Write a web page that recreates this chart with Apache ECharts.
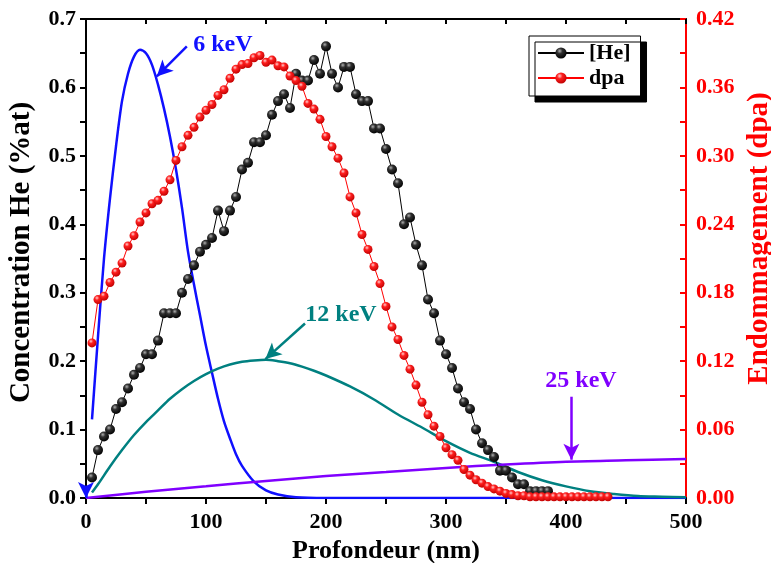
<!DOCTYPE html>
<html><head><meta charset="utf-8">
<script src="https://cdn.jsdelivr.net/npm/echarts@6/dist/echarts.min.js"></script>
<style>html,body{margin:0;padding:0;background:#fff}#c{width:771px;height:563px}</style>
</head><body><div id="c"></div>
<script>
// ---- Data ----
const heX = [5,10,15,20,25,30,35,40,45,50,55,60,65,70,75,80,85,90,95,100,105,110,115,120,125,130,135,140,145,150,155,160,165,170,175,180,185,190,195,200,205,210,215,220,225,230,235,240,245,250,255,260,265,270,275,280,285,290,295,300,305,310,315,320,325,330,335,340,345,350,355,360,365,370,375,380,385];
const heY = [0.03,0.07,0.09,0.10,0.13,0.14,0.16,0.18,0.19,0.21,0.21,0.23,0.27,0.27,0.27,0.30,0.32,0.34,0.36,0.37,0.38,0.42,0.39,0.42,0.44,0.48,0.49,0.52,0.52,0.53,0.56,0.58,0.59,0.57,0.62,0.61,0.61,0.64,0.62,0.66,0.62,0.60,0.63,0.63,0.59,0.58,0.58,0.54,0.54,0.51,0.48,0.46,0.40,0.41,0.37,0.34,0.29,0.27,0.23,0.21,0.19,0.16,0.14,0.13,0.10,0.08,0.07,0.06,0.04,0.04,0.03,0.02,0.02,0.01,0.01,0.01,0.01];
const dpaX = [5,10,15,20,25,30,35,40,45,50,55,60,65,70,75,80,85,90,95,100,105,110,115,120,125,130,135,140,145,150,155,160,165,170,175,180,185,190,195,200,205,210,215,220,225,230,235,240,245,250,255,260,265,270,275,280,285,290,295,300,305,310,315,320,325,330,335,340,345,350,355,360,365,370,375,380,385,390,395,400,405,410,415,420,425,430,435];
const dpaY = [0.136,0.174,0.177,0.189,0.198,0.206,0.221,0.230,0.242,0.250,0.258,0.261,0.269,0.279,0.296,0.308,0.318,0.325,0.334,0.340,0.345,0.353,0.358,0.368,0.376,0.380,0.381,0.386,0.388,0.382,0.384,0.379,0.378,0.370,0.366,0.361,0.346,0.341,0.332,0.317,0.308,0.298,0.285,0.264,0.250,0.231,0.218,0.203,0.188,0.168,0.150,0.139,0.125,0.113,0.099,0.084,0.073,0.063,0.054,0.044,0.038,0.033,0.025,0.020,0.016,0.013,0.010,0.008,0.006,0.004,0.003,0.002,0.002,0.001,0.001,0.001,0.001,0.001,0.001,0.001,0.001,0.001,0.001,0.001,0.001,0.001,0.001];
const kev6X = [5,10,15,20,25,30,35,40,45,50,55,60,65,70,75,80,85,90,95,100,105,110,115,120,125,130,140,150,160,175,200,250,300,400,500];
const kev6Y = [0.115,0.236,0.35,0.438,0.514,0.58,0.62,0.645,0.655,0.650,0.633,0.604,0.569,0.528,0.48,0.424,0.36,0.312,0.267,0.222,0.183,0.145,0.112,0.087,0.064,0.047,0.024,0.011,0.005,0.001,0,0,0,0,0];
const kev12X = [5,10,20,30,40,50,60,70,80,90,100,110,120,130,140,150,160,170,180,190,200,220,240,260,280,300,320,340,360,380,400,420,440,460,480,500];
const kev12Y = [0.008,0.02,0.046,0.07,0.092,0.111,0.128,0.145,0.159,0.171,0.181,0.189,0.195,0.199,0.201,0.202,0.200,0.197,0.192,0.186,0.179,0.163,0.144,0.122,0.103,0.083,0.066,0.053,0.038,0.026,0.017,0.010,0.006,0.003,0.002,0.001];
const kev25X = [0,50,100,150,200,250,300,350,400,450,500];
const kev25Y = [0.0,0.009,0.017,0.025,0.032,0.038,0.044,0.049,0.053,0.055,0.057];
const xTitle = 'Profondeur (nm)';
const yLeftTitle = 'Concentration He (%at)';
const yRightTitle = 'Endommagement (dpa)';
const legendNames = ['[He]', 'dpa'];

// ---- Chart ----
const F = '"Liberation Serif","Times New Roman",serif';
const zip = (xs, ys) => xs.map((x, i) => [x, ys[i]]);
const ballBlack = {type:'radial', x:0.38, y:0.32, r:0.7, colorStops:[{offset:0,color:'#b0b0b0'},{offset:0.35,color:'#303030'},{offset:1,color:'#000'}]};
const ballRed = {type:'radial', x:0.38, y:0.32, r:0.7, colorStops:[{offset:0,color:'#ffd0d0'},{offset:0.35,color:'#ff2020'},{offset:1,color:'#c00000'}]};
const annLabel = (txt, color) => ({show:true, position:'inside', formatter:txt, color:color, fontFamily:F, fontWeight:'bold', fontSize:24});
const chart = echarts.init(document.getElementById('c'), null, {renderer:'canvas'});
chart.setOption({
  animation:false,
  backgroundColor:'#fff',
  grid:{left:86, right:85, top:19, bottom:65, containLabel:false, outerBoundsMode:'none'},
  legend:{
    data:legendNames, left:529, top:36, orient:'vertical',
    itemWidth:46, itemHeight:14, itemGap:3, padding:[6,10,7,8],
    backgroundColor:'#fff', borderColor:'#000', borderWidth:1,
    shadowColor:'#000', shadowBlur:0, shadowOffsetX:6, shadowOffsetY:6,
    textStyle:{fontFamily:F, fontWeight:'bold', fontSize:22, color:'#000'}
  },
  xAxis:[{
    type:'value', min:0, max:500, interval:100, position:'bottom',
    name:xTitle, nameLocation:'middle', nameGap:40,
    nameTextStyle:{fontFamily:F, fontWeight:'bold', fontSize:26, color:'#000'},
    axisLine:{onZero:false, lineStyle:{color:'#000', width:2}},
    axisTick:{inside:false, length:6, lineStyle:{width:2}},
    minorTick:{show:true, splitNumber:2, length:6, lineStyle:{color:'#000', width:2}},
    axisLabel:{margin:13, fontFamily:F, fontWeight:'bold', fontSize:22, color:'#000'},
    splitLine:{show:false}
  },{
    type:'value', min:0, max:500, interval:100, position:'top',
    axisLine:{onZero:false, lineStyle:{color:'#000', width:2}},
    axisTick:{inside:true, length:5, lineStyle:{width:2}},
    minorTick:{show:true, splitNumber:2, length:5, lineStyle:{color:'#000', width:2}},
    axisLabel:{show:false}, splitLine:{show:false}
  }],
  yAxis:[{
    type:'value', min:0, max:0.7, interval:0.1, position:'left',
    name:yLeftTitle, nameLocation:'middle', nameGap:50,
    nameTextStyle:{fontFamily:F, fontWeight:'bold', fontSize:29, color:'#000', padding:[0,0,0,12]},
    axisLine:{show:true, onZero:false, lineStyle:{color:'#000', width:2}},
    axisTick:{show:true, inside:false, length:6, lineStyle:{color:'#000', width:2}},
    minorTick:{show:true, splitNumber:2, length:6, lineStyle:{color:'#000', width:2}},
    axisLabel:{margin:10, formatter:v=>v.toFixed(1), fontFamily:F, fontWeight:'bold', fontSize:22, color:'#000'},
    splitLine:{show:false}
  },{
    type:'value', min:0, max:0.42, interval:0.06, position:'right',
    name:yRightTitle, nameLocation:'middle', nameGap:55,
    nameTextStyle:{fontFamily:F, fontWeight:'bold', fontSize:29, color:'#ff0000', padding:[0,0,0,40]},
    axisLine:{show:true, onZero:false, lineStyle:{color:'#ff0000', width:2}},
    axisTick:{show:true, inside:true, length:6, lineStyle:{color:'#ff0000', width:2}},
    minorTick:{show:true, splitNumber:2, length:6, lineStyle:{color:'#ff0000', width:2}},
    axisLabel:{margin:10, formatter:v=>v.toFixed(2), fontFamily:F, fontWeight:'bold', fontSize:22, color:'#ff0000'},
    splitLine:{show:false}
  }],
  series:[
    {name:'6 keV', type:'line', data:zip(kev6X,kev6Y), smooth:0.3, showSymbol:false, symbol:'none',
     lineStyle:{color:'#1010ff', width:2.5}, itemStyle:{color:'#1010ff'}, z:3,
     markLine:{silent:true, symbol:['none','arrow'], symbolSize:[12,16], label:{show:false},
       lineStyle:{color:'#1010ff', width:2.5, type:'solid'},
       data:[[{coord:[84,0.66]},{coord:[59,0.616]}],[{coord:[0,0.018]},{coord:[0,0.0]}]]},
     markPoint:{silent:true, symbol:'circle', symbolSize:1, itemStyle:{color:'rgba(0,0,0,0)'},
       data:[{coord:[114,0.663], label:annLabel('6 keV','#1010ff')}]}},
    {name:'12 keV', type:'line', data:zip(kev12X,kev12Y), smooth:0.3, showSymbol:false, symbol:'none',
     lineStyle:{color:'#008080', width:2.5}, itemStyle:{color:'#008080'}, z:3,
     markLine:{silent:true, symbol:['none','arrow'], symbolSize:[12,16], label:{show:false},
       lineStyle:{color:'#008080', width:2.5, type:'solid'},
       data:[[{coord:[182.5,0.255]},{coord:[149.5,0.203]}]]},
     markPoint:{silent:true, symbol:'circle', symbolSize:1, itemStyle:{color:'rgba(0,0,0,0)'},
       data:[{coord:[212.5,0.268], label:annLabel('12 keV','#008080')}]}},
    {name:'25 keV', type:'line', data:zip(kev25X,kev25Y), smooth:0.3, showSymbol:false, symbol:'none',
     lineStyle:{color:'#8000ff', width:2.5}, itemStyle:{color:'#8000ff'}, z:3,
     markLine:{silent:true, symbol:['none','arrow'], symbolSize:[12,16], label:{show:false},
       lineStyle:{color:'#8000ff', width:2.5, type:'solid'},
       data:[[{coord:[404.5,0.148]},{coord:[404.5,0.056]}]]},
     markPoint:{silent:true, symbol:'circle', symbolSize:1, itemStyle:{color:'rgba(0,0,0,0)'},
       data:[{coord:[412.5,0.171], label:annLabel('25 keV','#8000ff')}]}},
    {name:'[He]', type:'line', data:zip(heX,heY), symbol:'circle', symbolSize:10, showSymbol:true,
     lineStyle:{color:'#000', width:1}, itemStyle:{color:ballBlack}, z:4},
    {name:'dpa', type:'line', yAxisIndex:1, data:zip(dpaX,dpaY), symbol:'circle', symbolSize:9, showSymbol:true,
     lineStyle:{color:'#ff0000', width:1}, itemStyle:{color:ballRed}, z:5}
  ]
});
</script></body></html>
